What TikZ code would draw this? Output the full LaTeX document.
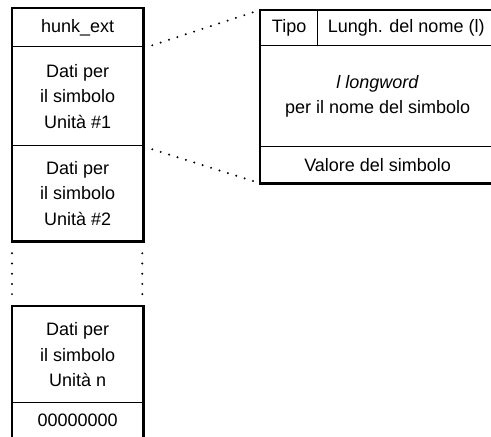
\documentclass[tikz,border=0pt]{standalone}
\usepackage{fontspec}
\setmainfont{Liberation Sans}
\begin{document}
\begin{tikzpicture}[x=1pt,y=-1pt,
  font=\fontsize{18}{25.5}\selectfont,
  cell/.style={draw, line width=1.3pt, minimum width=130pt, inner sep=0pt,
    align=center, anchor=north west},
  outer/.style={line width=2.6pt},
  dots/.style={line width=2.2pt, dash pattern=on 0pt off 8.8pt, line cap=round},
  vdots/.style={line width=2.2pt, dash pattern=on 0pt off 10.2pt, line cap=round}]
\useasboundingbox (0,0) rectangle (491,437);
% left column, upper part
\node[cell, minimum height=38pt] (hunk) at (12,8) {hunk\_ext};
\node[cell, minimum height=99pt] (u1) at (12,46) {Dati per\\il simbolo\\Unità \#1};
\node[cell, minimum height=95pt] (u2) at (12,145) {Dati per\\il simbolo\\Unità \#2};
\draw[outer] (hunk.north west) rectangle (u2.south east);
% gap
\draw[vdots] ([yshift=-12pt]u2.south west) -- ++(0,41);
\draw[vdots] ([xshift=-1pt,yshift=-12pt]u2.south east) -- ++(0,41);
% left column, lower part
\node[cell, minimum height=96pt] (un) at (12,306) {Dati per\\il simbolo\\Unità n};
\node[cell, minimum height=36pt] (zero) at (12,402) {00000000};
\draw[outer] ([yshift=-4pt]zero.south west) -- (un.north west) -- (un.north east) -- ([yshift=-4pt]zero.south east);
% right box
\node[cell, minimum width=57pt, minimum height=35pt] (tipo) at (260,10) {Tipo};
\node[cell, minimum width=177pt, minimum height=35pt] (lungh) at (317,10) {Lungh. del nome (l)};
\node[cell, minimum width=234pt, minimum height=101pt] (name) at (260,45) {\textit{l longword}\\per il nome del simbolo};
\node[cell, minimum width=234pt, minimum height=36pt] (val) at (260,146) {Valore del simbolo};
\draw[outer] (tipo.north west) rectangle (val.south east);
% dotted connectors
\draw[dots] ([shift={(9pt,2pt)}]hunk.south east) -- ([shift={(-3pt,-1pt)}]tipo.north west);
\draw[dots] ([shift={(9pt,-3pt)}]u1.south east) -- ([shift={(-3pt,1pt)}]val.south west);
\end{tikzpicture}
\end{document}
